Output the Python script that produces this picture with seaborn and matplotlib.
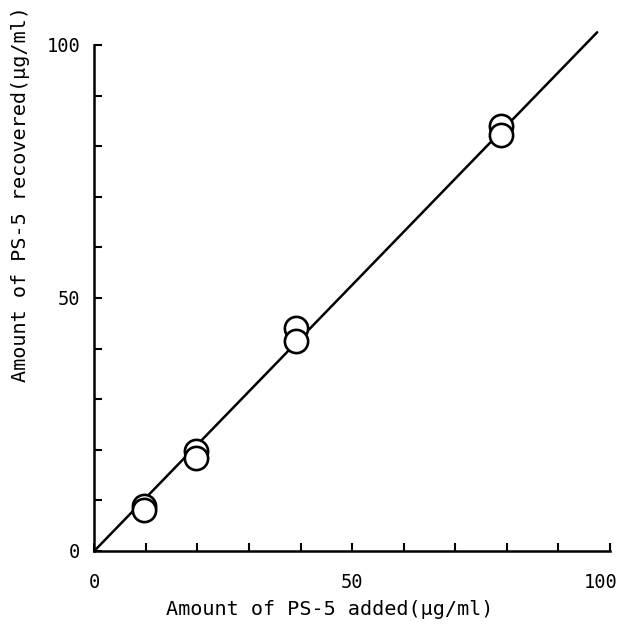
import matplotlib
matplotlib.use("Agg")
import matplotlib.pyplot as plt
import matplotlib.transforms as mtransforms
import seaborn as sns
import pandas as pd

# recovery data
added = [9.7, 9.7, 19.7, 19.7, 39.1, 39.1, 78.8, 78.8]
recovered = [8.9, 8.1, 19.8, 18.4, 44.1, 41.4, 84.0, 82.2]
fit_x = [0, 97.5]
fit_y = [0, 102.5]
tick_vals = list(range(0, 101, 10))
tick_labels = ["0", "", "", "", "", "50", "", "", "", "", "100"]

sns.set_style("white")
plt.rcParams['font.family'] = ['DejaVu Sans Mono', 'DejaVu Sans']

df = pd.DataFrame({"added": added, "recovered": recovered})
fit = pd.DataFrame({"x": fit_x, "y": fit_y})

fig = plt.figure(figsize=(6.2, 6.24), dpi=100)
ax = fig.add_axes([0.152, 0.117, 0.832, 0.811])

sns.lineplot(data=fit, x="x", y="y", color="black", linewidth=1.8, ax=ax,
             clip_on=False)
sns.scatterplot(data=df, x="added", y="recovered", s=280, facecolor="white",
                edgecolor="black", linewidth=1.9, zorder=3, ax=ax)

ax.set_xlim(0, 100)
ax.set_ylim(0, 100)
ax.set_xticks(tick_vals)
ax.set_xticklabels(tick_labels)
ax.set_yticks(tick_vals)
ax.set_yticklabels(tick_labels)
ax.tick_params(axis="x", bottom=True, direction="in", length=6, width=1.5,
               pad=16, labelsize=13.5, labelcolor="black", color="black")
ax.tick_params(axis="y", left=True, direction="in", length=6, width=1.5,
               pad=10, labelsize=13.5, labelcolor="black", color="black")
# the "100" label sits a little left of its tick in the original
last = ax.get_xticklabels()[-1]
last.set_transform(last.get_transform() +
                   mtransforms.ScaledTranslation(-0.09, 0, fig.dpi_scale_trans))

sns.despine(ax=ax)
for side in ["left", "bottom"]:
    ax.spines[side].set_linewidth(1.8)
    ax.spines[side].set_color("black")

ax.set_xlabel("Amount of PS-5 added(\u03bcg/ml)", fontsize=14.5, color="black")
ax.set_ylabel("Amount of PS-5 recovered(\u03bcg/ml)", fontsize=14.5,
              color="black")
ax.xaxis.set_label_coords(0.457, -0.096)
ax.yaxis.set_label_coords(-0.125, 0.705)

fig.savefig("out.png", dpi=100, facecolor="white")
